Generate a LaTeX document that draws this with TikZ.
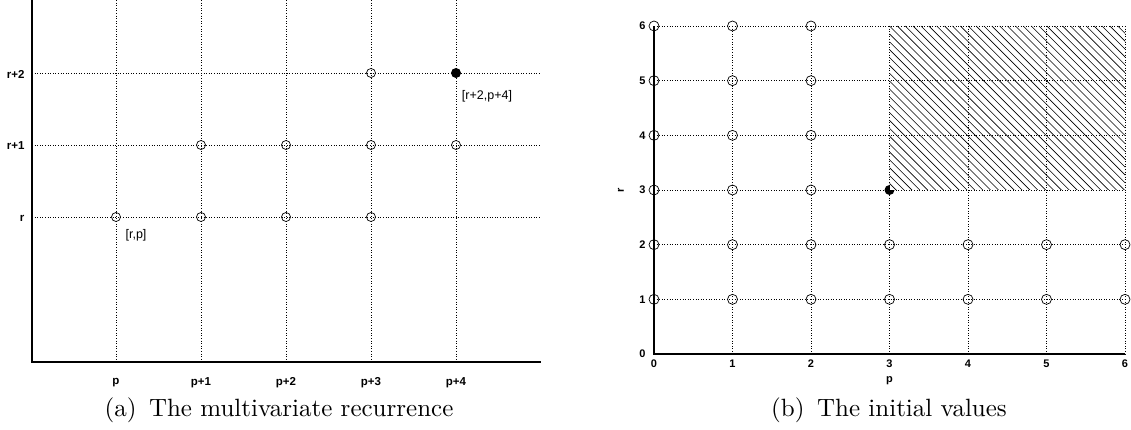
\documentclass[tikz,border=0pt]{standalone}
\usepackage{fontspec}
\newfontfamily\arial{Liberation Sans}
\newfontfamily\capfont{lmroman10-regular.otf}
\begin{document}
\begin{tikzpicture}[x=1pt,y=-1pt,
  grid/.style={dotted, line width=0.6pt},
  axis/.style={line width=1.1pt},
  opt/.style={circle,draw,inner sep=0pt,minimum size=9pt,line width=0.7pt},
  ropt/.style={circle,draw,inner sep=0pt,minimum size=10pt,line width=0.7pt},
  fpt/.style={circle,fill,inner sep=0pt,minimum size=10pt},
  tick/.style={font=\arial\bfseries\fontsize{11.5}{13}\selectfont},
  rtick/.style={font=\arial\bfseries\fontsize{11}{13}\selectfont},
  ann/.style={font=\arial\fontsize{12.5}{14}\selectfont},
  captext/.style={font=\capfont\fontsize{25}{29}\selectfont}]
\useasboundingbox (0,0) rectangle (1131,430);

% ---------------- left panel ----------------
\coordinate (LO) at (32,362);
\coordinate (LT) at (32,0);
\coordinate (LR) at (541,362);
\foreach \i/\lab in {0/p,1/p+1,2/p+2,3/p+3,4/p+4}{
  \coordinate (vt\i) at ({116+85*\i},0);
  \coordinate (vb\i) at ({116+85*\i},362);
  \draw[grid] (vt\i) -- (vb\i);
  \node[tick] (xl\i) at ({116+85*\i},383) {\lab};
}
\foreach \j/\y/\lab in {0/217/r,1/145/r+1,2/73/r+2}{
  \coordinate (hl\j) at (32,\y);
  \coordinate (hr\j) at (541,\y);
  \draw[grid] (hl\j) -- (hr\j);
  \node[tick,anchor=east] (yl\j) at (28,{\y+1}) {\lab};
}
\draw[axis] (LT) -- (LO) -- (LR);
\foreach \i/\j in {0/0,1/0,2/0,3/0,1/1,2/1,3/1,4/1,3/2}{
  \node[opt] (c\i\j) at ({116+85*\i},{217-72*\j}) {};
}
\node[fpt] (c42) at (456,73) {};
\node[ann] (lrp) at (136,235) {[r,p]};
\node[ann] (lrp4) at (487,96) {[r+2,p+4]};
\node[captext] (capa) at (279,410) {(a)\enspace The multivariate recurrence};

% ---------------- right panel ----------------
\def\ox{654}\def\oy{354}\def\dx{78.5}\def\dy{54.667}
\node[fpt] (d33) at ({\ox+3*\dx},{\oy-3*\dy}) {};
\fill[white] ({\ox+3*\dx},{\oy-6*\dy}) rectangle ({\ox+6*\dx},{\oy-3*\dy});
\begin{scope}
  \clip ({\ox+3*\dx},{\oy-6*\dy}) rectangle ({\ox+6*\dx},{\oy-3*\dy});
  \foreach \k in {-24,...,31}{
    \draw[line width=0.6pt] ({\ox+3*\dx+7.87*\k},{\oy-6*\dy}) -- ++(200,200);
  }
\end{scope}
\foreach \i in {1,...,6}{
  \coordinate (rvt\i) at ({\ox+\i*\dx},{\oy-6*\dy});
  \coordinate (rvb\i) at ({\ox+\i*\dx},\oy);
  \draw[grid] (rvt\i) -- (rvb\i);
  \coordinate (rhl\i) at (\ox,{\oy-\i*\dy});
  \coordinate (rhr\i) at ({\ox+6*\dx},{\oy-\i*\dy});
  \draw[grid] (rhl\i) -- (rhr\i);
}
\coordinate (RO) at (\ox,\oy);
\coordinate (RT) at (\ox,{\oy-6*\dy});
\coordinate (RR) at ({\ox+6*\dx},\oy);
\draw[axis] (RT) -- (RO) -- (RR);
\foreach \k in {0,...,6}{
  \node[rtick,anchor=east] (ry\k) at ({\ox-5},{\oy-\k*\dy}) {\k};
  \node[rtick] (rx\k) at ({\ox+\k*\dx},{\oy+10}) {\k};
}
\node[rtick] (plab) at ({\ox+3*\dx},381) {p};
\node[rtick,rotate=90] (rlab) at (621,{\oy-3*\dy}) {r};
\foreach \j in {1,2}{
  \foreach \i in {0,...,6}{
    \node[ropt] (d\i\j) at ({\ox+\i*\dx},{\oy-\j*\dy}) {};
  }
}
\foreach \j in {3,...,6}{
  \foreach \i in {0,1,2}{
    \node[ropt] (d\i\j) at ({\ox+\i*\dx},{\oy-\j*\dy}) {};
  }
}
\node[captext] (capb) at (889,410) {(b)\enspace The initial values};
\end{tikzpicture}
\end{document}
